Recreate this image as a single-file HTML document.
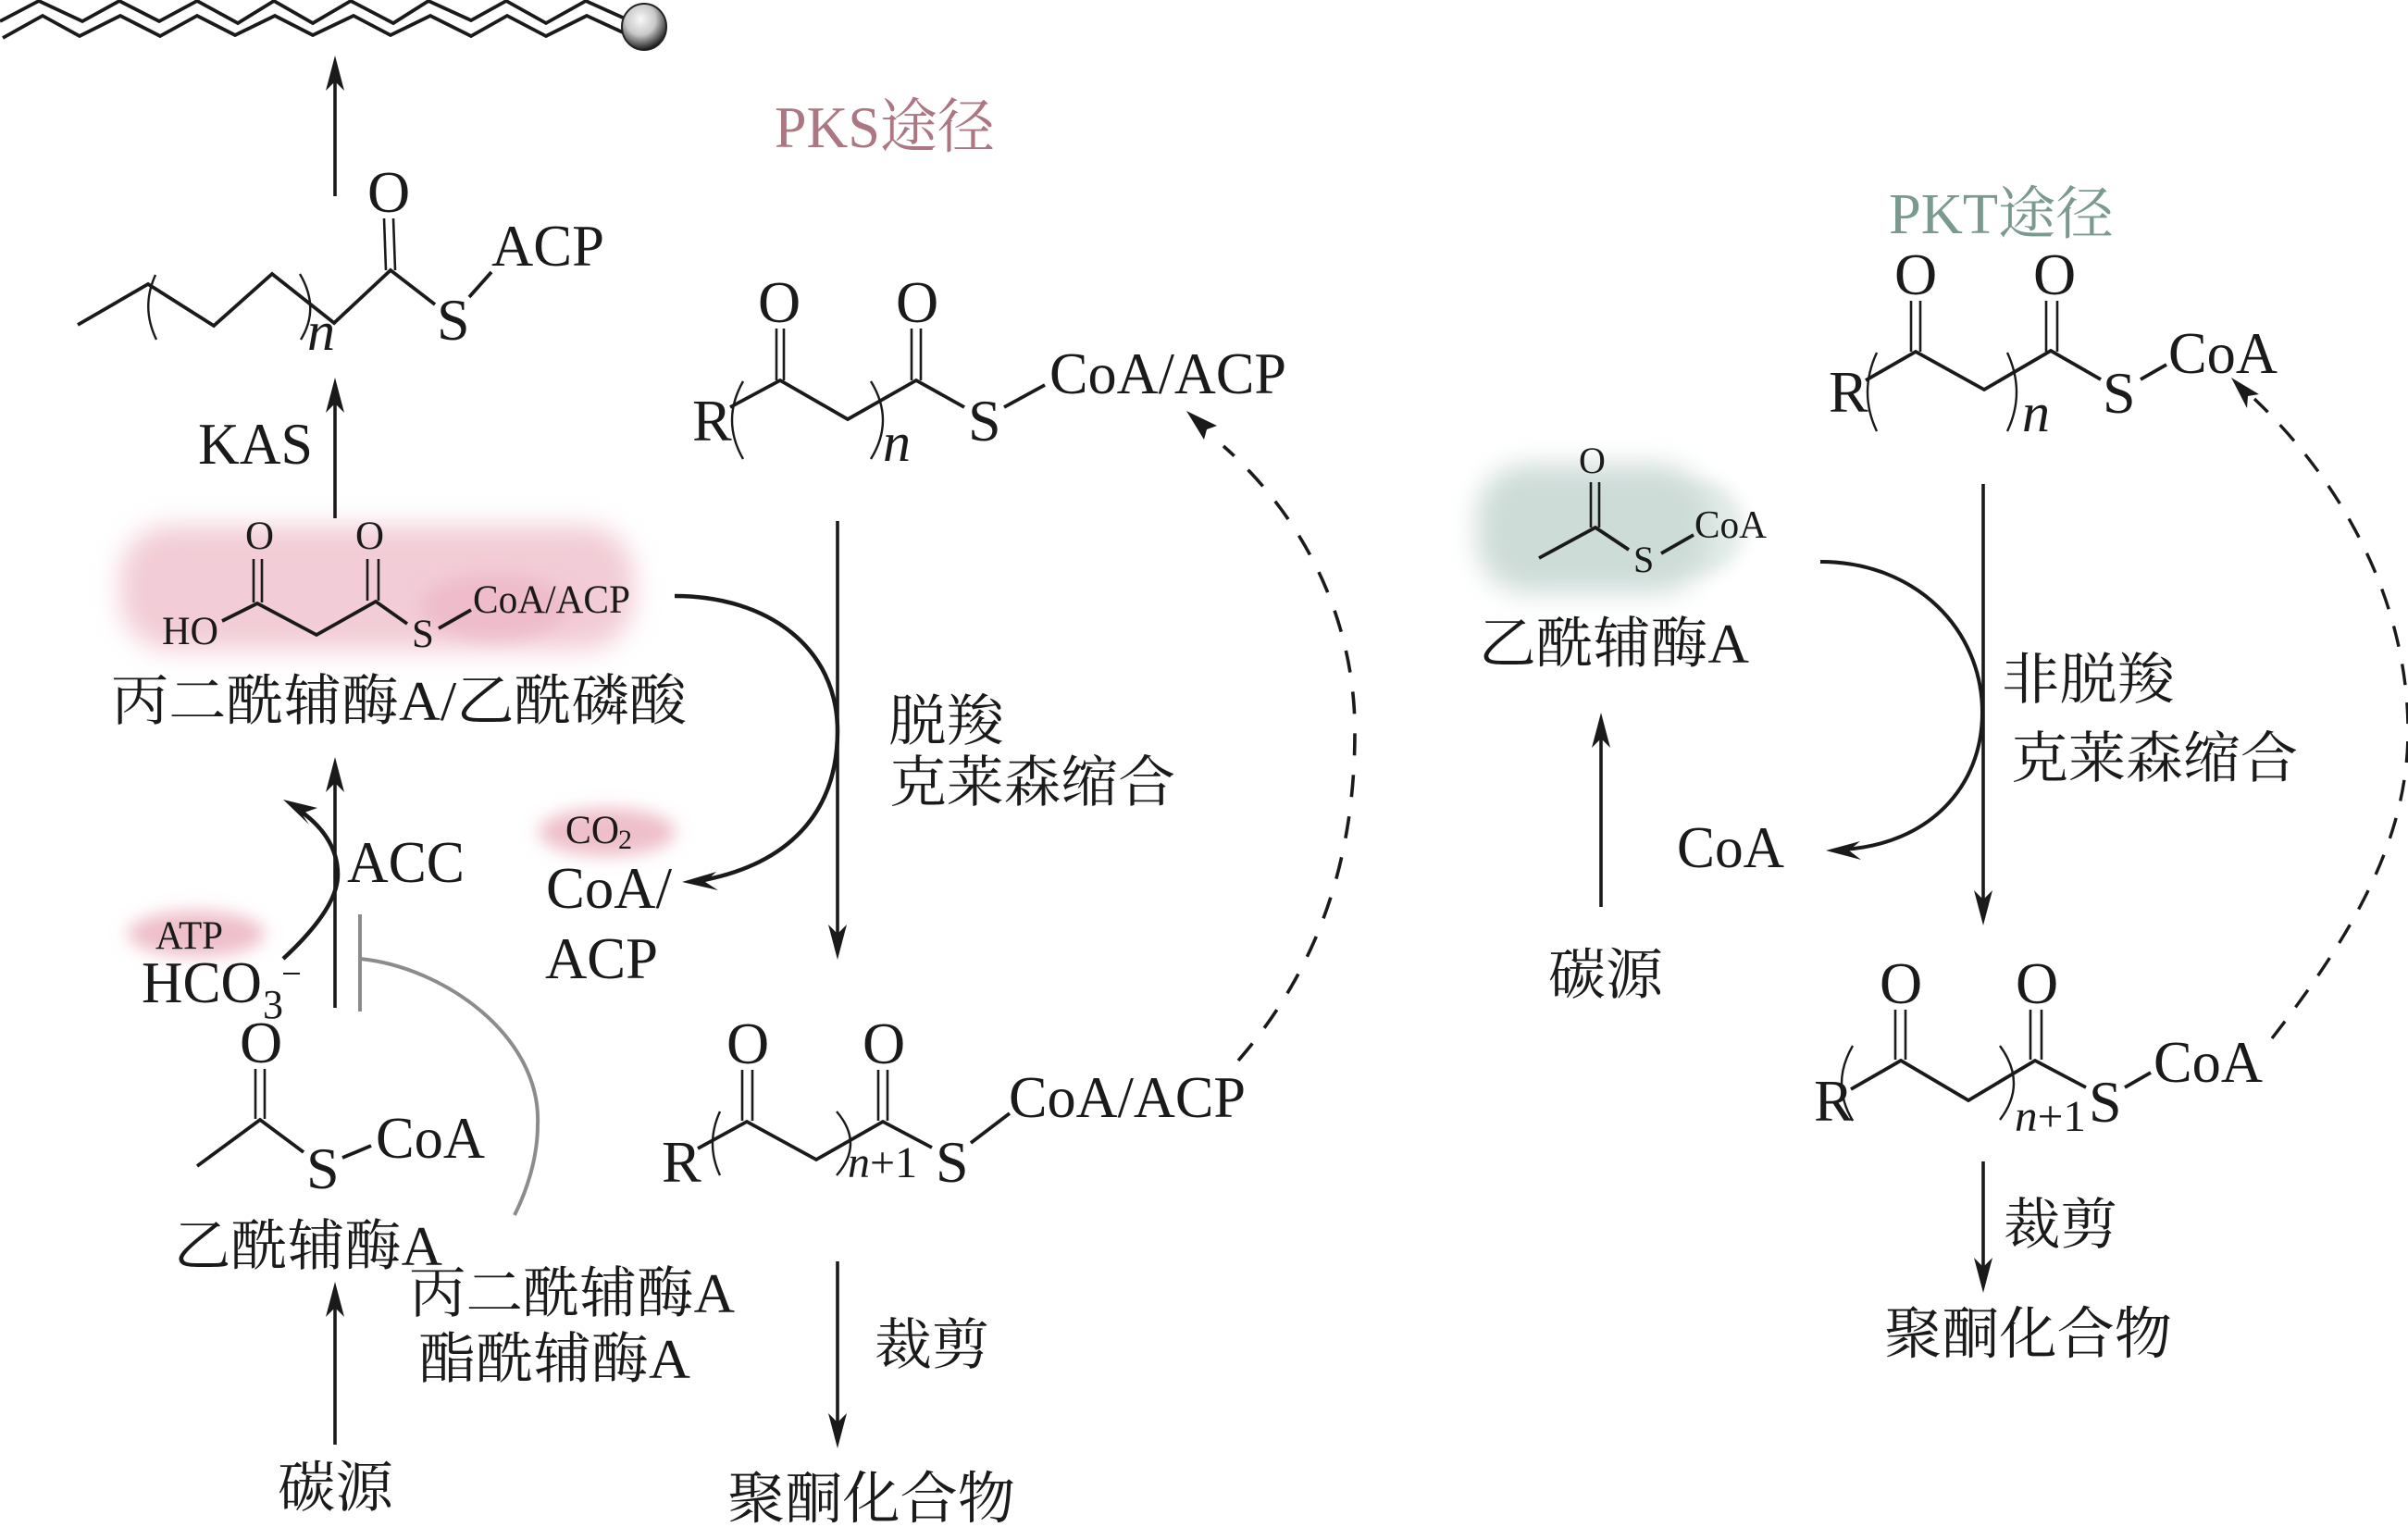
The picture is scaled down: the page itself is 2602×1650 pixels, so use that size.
<!DOCTYPE html>
<html lang="zh">
<head>
<meta charset="utf-8">
<title>PKS / PKT</title>
<style>
html,body{margin:0;padding:0;background:#fff;}
svg{display:block;}
text{font-family:"Liberation Serif","Noto Serif CJK SC",serif;fill:#1a1a1a;}
.t64{font-size:64px;}
.t43{font-size:43px;}
.c{font-size:60px;}
.b{fill:none;stroke:#1a1a1a;stroke-width:3.8;stroke-linejoin:miter;stroke-linecap:butt;}
.d{fill:none;stroke:#1a1a1a;stroke-width:2.6;}
.p{fill:none;stroke:#1a1a1a;stroke-width:2.4;}
.a{fill:none;stroke:#1a1a1a;stroke-width:3.6;}
.h{fill:#1a1a1a;stroke:none;}
</style>
</head>
<body>
<svg width="2602" height="1650" viewBox="0 0 2602 1650" xmlns="http://www.w3.org/2000/svg">
<defs>
<filter id="bl" x="-20%" y="-30%" width="140%" height="160%"><feGaussianBlur stdDeviation="14"/></filter>
<filter id="bs" x="-30%" y="-50%" width="160%" height="200%"><feGaussianBlur stdDeviation="9"/></filter>
<radialGradient id="ball" cx="42%" cy="34%" r="68%">
<stop offset="0" stop-color="#f8f8f8"/><stop offset=".5" stop-color="#c8c8c8"/><stop offset=".82" stop-color="#555"/><stop offset="1" stop-color="#111"/>
</radialGradient>
</defs>

<!-- blobs -->
<rect x="130" y="568" width="555" height="134" rx="55" fill="#f2ccd6" filter="url(#bl)"/>
<ellipse cx="535" cy="655" rx="80" ry="35" fill="#eebccb" filter="url(#bs)"/>
<ellipse cx="656" cy="899" rx="74" ry="26" fill="#eebfca" filter="url(#bs)"/>
<ellipse cx="212" cy="1009" rx="74" ry="25" fill="#eebfca" filter="url(#bs)"/>
<ellipse cx="1840" cy="570" rx="45" ry="50" fill="#e2ebe8" filter="url(#bs)"/>
<rect x="1596" y="502" width="250" height="138" rx="55" fill="#cedcd8" filter="url(#bl)"/>

<!-- top chain -->
<polyline class="b" points="0,23 42,1 89,23 129,1 172,23 213,1 257,25 296,1 338,25 379,1 425,25 463,1 509,22 547,1 590,25 633,1 673,19"/>
<polyline class="b" points="3,41 46,17 86,39 130,17 173,39 213,17 254,38 297,17 338,38 382,17 422,38 465,17 509,39 548,17 590,39 634,17 673,35"/>
<ellipse cx="696" cy="29" rx="24" ry="25" fill="url(#ball)" stroke="#222" stroke-width="2"/>

<!-- arrows left column -->
<line class="a" x1="362" y1="212" x2="362" y2="80"/>
<polygon class="h" points="362,60 372,98 362,88 352,98"/>
<line class="a" x1="362" y1="560" x2="362" y2="430"/>
<polygon class="h" points="362,408 372,446 362,436 352,446"/>
<text class="t64" x="214" y="501" textLength="124" lengthAdjust="spacingAndGlyphs">KAS</text>

<!-- acyl-S-ACP -->
<polyline class="b" points="84,351 160,307 231,352 294,296 361,349 422,292 470,329"/>
<line class="b" x1="507" y1="321" x2="531" y2="294"/>
<line class="d" x1="415" y1="236" x2="417" y2="292"/>
<line class="d" x1="425" y1="236" x2="427" y2="292"/>
<path class="p" d="M168,297 Q152,332 169,367"/>
<path class="p" d="M324,296 Q346,333 325,367"/>
<text class="t64" x="397" y="229">O</text>
<text class="t64" x="531" y="287" textLength="122" lengthAdjust="spacingAndGlyphs">ACP</text>
<text class="t64" x="472" y="367">S</text>
<text class="t64" x="332" y="378" font-style="italic" style="font-size:60px">n</text>

<!-- malonyl -->
<polyline class="b" points="240,671 278,652 342,686 406,650 440,674"/>
<line class="b" x1="474" y1="679" x2="509" y2="659"/>
<line class="d" x1="274" y1="604" x2="274" y2="651"/>
<line class="d" x1="283" y1="604" x2="283" y2="651"/>
<line class="d" x1="397" y1="604" x2="397" y2="649"/>
<line class="d" x1="409" y1="604" x2="409" y2="649"/>
<text class="t43" x="265" y="593">O</text>
<text class="t43" x="384" y="593">O</text>
<text class="t43" x="175" y="696" textLength="61" lengthAdjust="spacingAndGlyphs">HO</text>
<text class="t43" x="445" y="699">S</text>
<text class="t43" x="511" y="662" textLength="170" lengthAdjust="spacingAndGlyphs">CoA/ACP</text>
<text class="c" x="120" y="778" textLength="622" lengthAdjust="spacingAndGlyphs">丙二酰辅酶A/乙酰磷酸</text>

<!-- ACC region -->
<line class="a" x1="362" y1="1089" x2="362" y2="838"/>
<polygon class="h" points="362,818 372,856 362,846 352,856"/>
<path class="a" style="stroke-width:4.5" d="M306,1036 C345,1000 365,970 365,945 C365,915 347,892 324,876"/>
<polygon class="h" points="306,864 343,873 326,879 334,891"/>
<text class="t64" x="375" y="953" textLength="127" lengthAdjust="spacingAndGlyphs">ACC</text>
<text class="t43" x="611" y="911" textLength="58" lengthAdjust="spacingAndGlyphs">CO</text>
<text x="668" y="917" style="font-size:30px">2</text>
<text class="t64" x="590" y="981" textLength="136" lengthAdjust="spacingAndGlyphs">CoA/</text>
<text class="t64" x="589" y="1057" textLength="122" lengthAdjust="spacingAndGlyphs">ACP</text>
<text class="t43" x="168" y="1025" textLength="73" lengthAdjust="spacingAndGlyphs">ATP</text>
<text class="t64" x="153" y="1083" textLength="130" lengthAdjust="spacingAndGlyphs">HCO</text>
<text x="284" y="1100" style="font-size:44px">3</text>
<line x1="306" y1="1052" x2="324" y2="1052" stroke="#1a1a1a" stroke-width="2"/>

<!-- inhibition -->
<line x1="389" y1="988" x2="389" y2="1093" stroke="#8c8c8c" stroke-width="4"/>
<path fill="none" stroke="#8c8c8c" stroke-width="4" d="M389,1036 C480,1045 585,1120 581,1215 C581,1250 570,1285 556,1313"/>

<!-- acetyl-CoA left -->
<polyline class="b" points="213,1260 281,1210 328,1245"/>
<line class="b" x1="370" y1="1251" x2="401" y2="1238"/>
<line class="d" x1="276" y1="1155" x2="276" y2="1209"/>
<line class="d" x1="286" y1="1155" x2="286" y2="1209"/>
<text class="t64" x="259" y="1148">O</text>
<text class="t64" x="331" y="1284">S</text>
<text class="t64" x="406" y="1251" textLength="118" lengthAdjust="spacingAndGlyphs">CoA</text>
<text class="c" x="188" y="1367" textLength="290" lengthAdjust="spacingAndGlyphs">乙酰辅酶A</text>
<text class="c" x="442" y="1418" textLength="352" lengthAdjust="spacingAndGlyphs">丙二酰辅酶A</text>
<text class="c" x="452" y="1489" textLength="294" lengthAdjust="spacingAndGlyphs">酯酰辅酶A</text>
<line class="a" x1="362" y1="1561" x2="362" y2="1405"/>
<polygon class="h" points="362,1385 372,1423 362,1413 352,1423"/>
<text class="c" x="300" y="1628" textLength="125" lengthAdjust="spacingAndGlyphs">碳源</text>

<!-- PKS label -->
<text x="837" y="159" style="font-size:64px;fill:#ad7683" textLength="238" lengthAdjust="spacingAndGlyphs">PKS途径</text>

<!-- PKS top molecule -->
<polyline class="b" points="789,440 843,411 916,453 990,411 1042,440"/>
<line class="b" x1="1085" y1="440" x2="1129" y2="416"/>
<line class="d" x1="839" y1="355" x2="839" y2="411"/>
<line class="d" x1="847" y1="355" x2="847" y2="411"/>
<line class="d" x1="985" y1="355" x2="985" y2="411"/>
<line class="d" x1="995" y1="355" x2="995" y2="411"/>
<path class="p" d="M803,412 Q779,454 803,496"/>
<path class="p" d="M941,412 Q967,454 941,496"/>
<text class="t64" x="819" y="348">O</text>
<text class="t64" x="968" y="348">O</text>
<text class="t64" x="748" y="476">R</text>
<text x="954" y="498" font-style="italic" style="font-size:60px">n</text>
<text class="t64" x="1046" y="476">S</text>
<text class="t64" x="1134" y="425" textLength="256" lengthAdjust="spacingAndGlyphs">CoA/ACP</text>

<!-- PKS main arrows -->
<line class="a" x1="905" y1="563" x2="905" y2="1015"/>
<polygon class="h" points="905,1037 915,999 905,1009 895,999"/>
<path class="a" style="stroke-width:4.5" d="M729,644 C830,644 905,700 905,790 C905,880 850,935 755,952"/>
<polygon class="h" points="737,953 774,942 762,953 776,962"/>
<text class="c" x="960" y="800" textLength="125" lengthAdjust="spacingAndGlyphs">脱羧</text>
<text class="c" x="961" y="866" textLength="309" lengthAdjust="spacingAndGlyphs">克莱森缩合</text>

<!-- dashed PKS -->
<path fill="none" stroke="#1a1a1a" stroke-width="3.6" stroke-dasharray="24 21" d="M1338,1146 C1430,1040 1464,920 1464,790 C1464,670 1410,560 1322,482"/>
<polygon class="h" points="1282,444 1315,460 1304,464 1301,475"/>

<!-- PKS n+1 -->
<polyline class="b" points="754,1241 807,1212 882,1253 954,1212 1007,1240"/>
<line class="b" x1="1049" y1="1235" x2="1091" y2="1203"/>
<line class="d" x1="802" y1="1156" x2="802" y2="1211"/>
<line class="d" x1="813" y1="1156" x2="813" y2="1211"/>
<line class="d" x1="949" y1="1156" x2="949" y2="1211"/>
<line class="d" x1="959" y1="1156" x2="959" y2="1211"/>
<path class="p" d="M778,1201 Q762,1236 778,1270"/>
<path class="p" d="M904,1201 Q934,1236 904,1270"/>
<text class="t64" x="785" y="1149">O</text>
<text class="t64" x="932" y="1149">O</text>
<text class="t64" x="715" y="1277">R</text>
<text x="916" y="1272" style="font-size:48px"><tspan font-style="italic">n</tspan>+1</text>
<text class="t64" x="1011" y="1277">S</text>
<text class="t64" x="1090" y="1207" textLength="256" lengthAdjust="spacingAndGlyphs">CoA/ACP</text>
<line class="a" x1="905" y1="1363" x2="905" y2="1545"/>
<polygon class="h" points="905,1565 915,1527 905,1537 895,1527"/>
<text class="c" x="945" y="1474" textLength="124" lengthAdjust="spacingAndGlyphs">裁剪</text>
<text x="786" y="1640" style="font-size:61px" textLength="311" lengthAdjust="spacingAndGlyphs">聚酮化合物</text>

<!-- PKT label -->
<text x="2041" y="252" style="font-size:62px;fill:#7a9a90" textLength="243" lengthAdjust="spacingAndGlyphs">PKT途径</text>

<!-- PKT top molecule -->
<polyline class="b" points="2016,411 2070,380 2144,421 2216,379 2270,410"/>
<line class="b" x1="2313" y1="410" x2="2341" y2="394"/>
<line class="d" x1="2065" y1="325" x2="2065" y2="380"/>
<line class="d" x1="2075" y1="325" x2="2075" y2="380"/>
<line class="d" x1="2211" y1="325" x2="2211" y2="380"/>
<line class="d" x1="2223" y1="325" x2="2223" y2="380"/>
<path class="p" d="M2028,381 Q2008,424 2028,466"/>
<path class="p" d="M2169,381 Q2189,424 2169,466"/>
<text class="t64" x="2047" y="318">O</text>
<text class="t64" x="2197" y="318">O</text>
<text class="t64" x="1976" y="445">R</text>
<text x="2185" y="466" font-style="italic" style="font-size:60px">n</text>
<text class="t64" x="2272" y="446">S</text>
<text class="t64" x="2343" y="403" textLength="118" lengthAdjust="spacingAndGlyphs">CoA</text>

<!-- acetyl-CoA right -->
<polyline class="b" points="1663,603 1724,570 1760,594"/>
<line class="b" x1="1795" y1="598" x2="1830" y2="578"/>
<line class="d" x1="1719" y1="521" x2="1719" y2="570"/>
<line class="d" x1="1728" y1="521" x2="1728" y2="570"/>
<text x="1706" y="511" style="font-size:40px">O</text>
<text x="1765" y="618" style="font-size:40px">S</text>
<text x="1831" y="581" style="font-size:42px" textLength="78" lengthAdjust="spacingAndGlyphs">CoA</text>
<text class="c" x="1598" y="716" textLength="292" lengthAdjust="spacingAndGlyphs">乙酰辅酶A</text>
<line class="a" x1="1730" y1="980" x2="1730" y2="790"/>
<polygon class="h" points="1730,770 1740,808 1730,798 1720,808"/>
<text class="c" x="1673" y="1074" textLength="124" lengthAdjust="spacingAndGlyphs">碳源</text>

<!-- PKT main arrow -->
<line class="a" x1="2143" y1="523" x2="2143" y2="980"/>
<polygon class="h" points="2143,1000 2153,962 2143,972 2133,962"/>
<path class="a" style="stroke-width:4" d="M1967,607 C2070,607 2142,680 2142,770 C2142,850 2085,912 1992,918"/>
<polygon class="h" points="1973,919 2010,909 1998,919 2011,929"/>
<text class="c" x="2163" y="755" textLength="187" lengthAdjust="spacingAndGlyphs">非脱羧</text>
<text class="c" x="2173" y="840" textLength="310" lengthAdjust="spacingAndGlyphs">克莱森缩合</text>
<text class="t64" x="1812" y="937" textLength="116" lengthAdjust="spacingAndGlyphs">CoA</text>

<!-- dashed PKT -->
<path fill="none" stroke="#1a1a1a" stroke-width="3.4" stroke-dasharray="23 19" d="M2455,1122 C2550,1000 2602,900 2602,790 C2602,660 2540,530 2436,431"/>
<polygon class="h" points="2411,408 2441,426 2429,428 2428,441"/>

<!-- PKT n+1 -->
<polyline class="b" points="2000,1177 2054,1146 2127,1189 2199,1146 2254,1175"/>
<line class="b" x1="2296" y1="1175" x2="2324" y2="1159"/>
<line class="d" x1="2048" y1="1091" x2="2048" y2="1145"/>
<line class="d" x1="2059" y1="1091" x2="2059" y2="1145"/>
<line class="d" x1="2194" y1="1091" x2="2194" y2="1145"/>
<line class="d" x1="2206" y1="1091" x2="2206" y2="1145"/>
<path class="p" d="M2002,1130 Q1978,1171 2002,1211"/>
<path class="p" d="M2161,1130 Q2191,1171 2161,1210"/>
<text class="t64" x="2031" y="1084">O</text>
<text class="t64" x="2178" y="1084">O</text>
<text class="t64" x="1960" y="1211">R</text>
<text x="2177" y="1222" style="font-size:48px" textLength="77" lengthAdjust="spacingAndGlyphs"><tspan font-style="italic">n</tspan>+1</text>
<text class="t64" x="2257" y="1212">S</text>
<text class="t64" x="2327" y="1169" textLength="118" lengthAdjust="spacingAndGlyphs">CoA</text>
<line class="a" x1="2143" y1="1255" x2="2143" y2="1377"/>
<polygon class="h" points="2143,1397 2153,1359 2143,1369 2133,1359"/>
<text class="c" x="2165" y="1344" textLength="123" lengthAdjust="spacingAndGlyphs">裁剪</text>
<text x="2036" y="1462" style="font-size:61px" textLength="311" lengthAdjust="spacingAndGlyphs">聚酮化合物</text>
</svg>
</body>
</html>
